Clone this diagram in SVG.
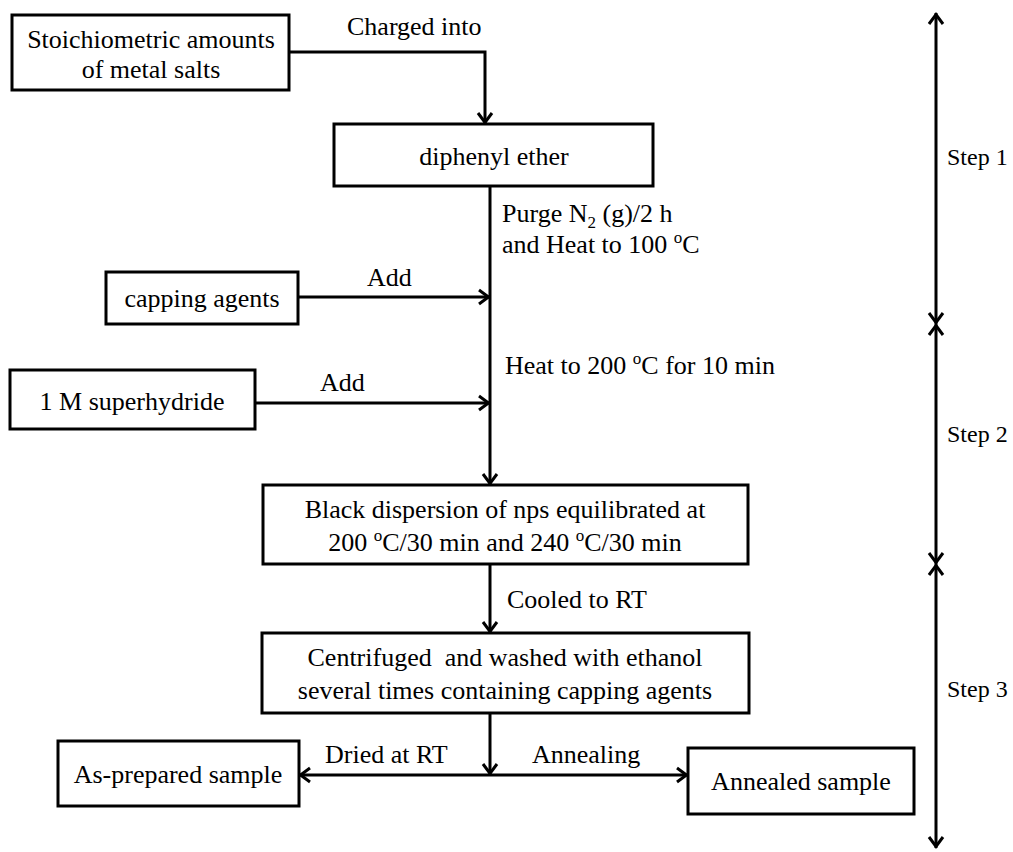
<svg xmlns="http://www.w3.org/2000/svg" width="1013" height="852" viewBox="0 0 1013 852">
  <defs>
    <marker id="arrow" markerUnits="userSpaceOnUse" markerWidth="24" markerHeight="24" viewBox="-16 -12 24 24" refX="0" refY="0" orient="auto-start-reverse" overflow="visible">
      <path d="M-11,-7 L-1.5,0 L-11,7" fill="none" stroke="#000" stroke-width="3"/>
    </marker>
    <style>
      .box { fill: #fff; stroke: #000; stroke-width: 3; }
      .txt { font-family: "Liberation Serif", "Times New Roman", serif; font-size: 26px; fill: #000; }
      .mid { text-anchor: middle; }
      .step { font-family: "Liberation Serif", "Times New Roman", serif; font-size: 24px; fill: #000; }
      .wire { fill: none; stroke: #000; stroke-width: 3; }
      .head { marker-end: url(#arrow); }
      .both { marker-start: url(#arrow); marker-end: url(#arrow); }
    </style>
  </defs>

  <rect width="1013" height="852" fill="#fff"/>

  <!-- connectors -->
  <g id="connectors">
    <path class="wire head" d="M289,52 H485 V124"/>
    <path class="wire head" d="M490,186 V485"/>
    <path class="wire head" d="M298,297 H490"/>
    <path class="wire head" d="M255,403 H490"/>
    <path class="wire head" d="M490,564 V633"/>
    <path class="wire head" d="M490,713 V775"/>
    <path class="wire both" d="M299,775 H688"/>
    <!-- stage axis -->
    <path class="wire both" d="M936,13 V324"/>
    <path class="wire both" d="M936,324 V564"/>
    <path class="wire both" d="M936,564 V848"/>
  </g>

  <!-- connector labels -->
  <g id="labels">
    <text class="txt" x="347" y="35">Charged into</text>
    <text class="txt" x="502" y="222">Purge N<tspan font-size="17" dy="6">2</tspan><tspan dy="-6"> (g)/2 h</tspan></text>
    <text class="txt" x="502" y="253">and Heat to 100 <tspan font-size="17" dy="-10">o</tspan><tspan dy="10">C</tspan></text>
    <text class="txt" x="367" y="286">Add</text>
    <text class="txt" x="505" y="374">Heat to 200 <tspan font-size="17" dy="-10">o</tspan><tspan dy="10">C for 10 min</tspan></text>
    <text class="txt" x="320" y="391">Add</text>
    <text class="txt" x="507" y="608">Cooled to RT</text>
    <text class="txt" x="325" y="763">Dried at RT</text>
    <text class="txt" x="532" y="763">Annealing</text>
    <text class="step" x="947" y="165">Step 1</text>
    <text class="step" x="947" y="442">Step 2</text>
    <text class="step" x="947" y="697">Step 3</text>
  </g>

  <g id="metal-salts">
    <rect class="box" x="12" y="15" width="277" height="75"/>
    <text class="txt mid" x="151" y="48">Stoichiometric amounts</text>
    <text class="txt mid" x="151" y="78">of metal salts</text>
  </g>

  <g id="diphenyl-ether">
    <rect class="box" x="334" y="124" width="319" height="62"/>
    <text class="txt mid" x="494" y="165">diphenyl ether</text>
  </g>

  <g id="capping-agents">
    <rect class="box" x="106" y="272" width="192" height="52"/>
    <text class="txt mid" x="202" y="307">capping agents</text>
  </g>

  <g id="superhydride">
    <rect class="box" x="10" y="370" width="245" height="59"/>
    <text class="txt mid" x="132" y="410">1 M superhydride</text>
  </g>

  <g id="black-dispersion">
    <rect class="box" x="263" y="485" width="485" height="79"/>
    <text class="txt mid" x="505" y="518">Black dispersion of nps equilibrated at</text>
    <text class="txt mid" x="505" y="551">200 <tspan font-size="17" dy="-10">o</tspan><tspan dy="10">C/30 min and 240 </tspan><tspan font-size="17" dy="-10">o</tspan><tspan dy="10">C/30 min</tspan></text>
  </g>

  <g id="centrifuged">
    <rect class="box" x="262" y="633" width="487" height="80"/>
    <text class="txt mid" x="505" y="666" xml:space="preserve">Centrifuged  and washed with ethanol</text>
    <text class="txt mid" x="505" y="699">several times containing capping agents</text>
  </g>

  <g id="as-prepared">
    <rect class="box" x="58" y="741" width="241" height="65"/>
    <text class="txt mid" x="178" y="783">As-prepared sample</text>
  </g>

  <g id="annealed">
    <rect class="box" x="688" y="748" width="226" height="66"/>
    <text class="txt mid" x="801" y="790">Annealed sample</text>
  </g>
</svg>
